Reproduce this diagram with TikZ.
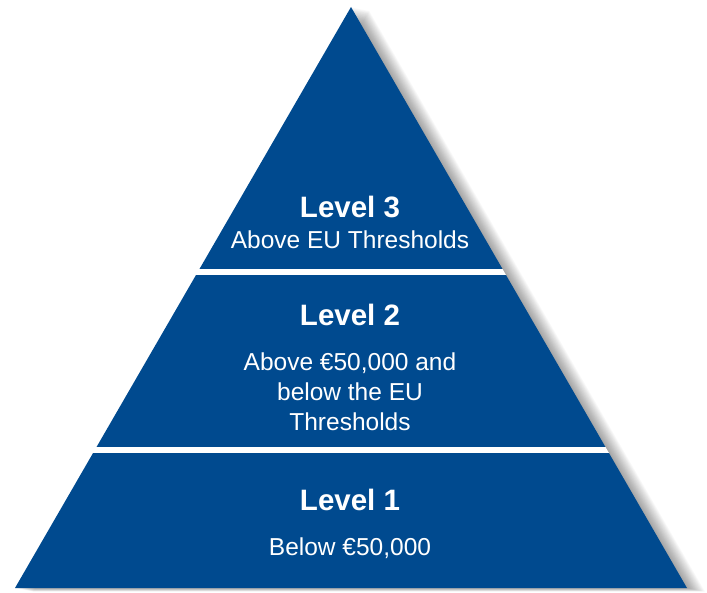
\documentclass[tikz,border=0pt]{standalone}
\usepackage{fontspec}
\setmainfont{Liberation Sans}
\definecolor{eublue}{RGB}{0,74,143}
\begin{document}
\begin{tikzpicture}[x=1pt,y=-1pt,
  title/.style={text=white,font=\fontsize{29.5}{32}\selectfont\bfseries,anchor=center},
  body/.style={text=white,font=\fontsize{24.5}{30}\selectfont,anchor=center,align=center}]
\useasboundingbox (0,0) rectangle (707,593);
\coordinate (A) at (351,7);
\coordinate (BL) at (15,588);
\coordinate (BR) at (687,588);
% soft shadow
\foreach \i in {1,...,18}{
  \fill[black,opacity=0.022] ([shift={(\i,0.2*\i)}]A) -- ([shift={(\i,0.2*\i)}]BR) -- ([shift={(\i,0.2*\i)}]BL) -- cycle;
}
\begin{scope}
\clip (A) -- (BR) -- (BL) -- cycle;
\fill[eublue] (0,0) rectangle (707,269);
\fill[eublue] (0,275) rectangle (707,447);
\fill[eublue] (0,453) rectangle (707,593);
\fill[white] (0,269) rectangle (707,275);
\fill[white] (0,447) rectangle (707,453);
\end{scope}
\node[title] (l3) at (350,207) {Level 3};
\node[body] (t3) at (350,240) {Above EU Thresholds};
\node[title] (l2) at (350,315) {Level 2};
\node[body] (t2) at (350,392) {Above €50,000 and\\below the EU\\Thresholds};
\node[title] (l1) at (350,500) {Level 1};
\node[body] (t1) at (350,548) {Below €50,000};
\end{tikzpicture}
\end{document}
